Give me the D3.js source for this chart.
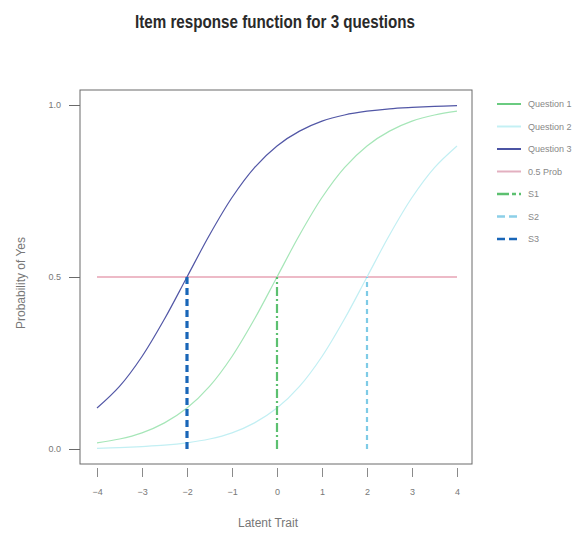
<!DOCTYPE html>
<html>
<head>
<meta charset="utf-8">
<script src="https://cdn.jsdelivr.net/npm/d3@7"></script>
<style>
  body { margin: 0; background: #fff; }
  svg { display: block; }
</style>
</head>
<body>
<div id="chart"></div>
<script>
// Values
const trait = [-4, -3.5, -3, -2.5, -2, -1.5, -1, -0.5, 0, 0.5, 1, 1.5, 2, 2.5, 3, 3.5, 4];
const question1 = [0.018, 0.029, 0.047, 0.076, 0.119, 0.182, 0.269, 0.378, 0.50, 0.622, 0.731, 0.818, 0.881, 0.924, 0.953, 0.971, 0.982];
const question2 = [0.002, 0.004, 0.007, 0.011, 0.018, 0.029, 0.047, 0.076, 0.119, 0.182, 0.269, 0.378, 0.50, 0.622, 0.731, 0.818, 0.881];
const question3 = [0.119, 0.182, 0.269, 0.378, 0.50, 0.622, 0.731, 0.818, 0.881, 0.924, 0.953, 0.971, 0.982, 0.989, 0.993, 0.996, 0.998];
const probLine = 0.5;
const thresholds = [
  { name: 'S1', x: 0 },
  { name: 'S2', x: 2 },
  { name: 'S3', x: -2 }
];
const xTicks = [-4, -3, -2, -1, 0, 1, 2, 3, 4];
const yTicks = [0, 0.5, 1];
const legendLabels = ['Question 1', 'Question 2', 'Question 3', '0.5 Prob', 'S1', 'S2', 'S3'];

const width = 582, height = 538;
const box = { left: 80, right: 472, top: 90, bottom: 464 };

const svg = d3.select('#chart').append('svg')
  .attr('width', width)
  .attr('height', height);

const x = d3.scaleLinear().domain([-4, 4]).range([97, 457]);
const y = d3.scaleLinear().domain([0, 1]).range([449, 105]);

// styles for each series
const styles = {
  'Question 1': { color: '#a6e6b8', legendColor: '#6acb80', width: 1.2, dash: null },
  'Question 2': { color: '#c2eff3', legendColor: '#c4f0f4', width: 1.2, dash: null },
  'Question 3': { color: '#5257a6', legendColor: '#4b54a3', width: 1.2, dash: null },
  '0.5 Prob':   { color: '#e7a3b4', legendColor: '#e3b0c0', width: 1.3, dash: null },
  'S1': { color: '#5cc070', legendColor: '#5cc070', width: 2.2, dash: '9,3,2,3' },
  'S2': { color: '#7ecbe6', legendColor: '#8ccfe8', width: 2.2, dash: '5,4' },
  'S3': { color: '#1966b8', legendColor: '#1966b8', width: 3.2, dash: '7,4' }
};

const narrow = '"Liberation Sans Narrow", "Liberation Sans", sans-serif';

// Frame
svg.append('rect')
  .attr('x', box.left)
  .attr('y', box.top)
  .attr('width', box.right - box.left)
  .attr('height', box.bottom - box.top)
  .attr('fill', 'none')
  .attr('stroke', '#6a6a6a')
  .attr('stroke-width', 1);

// Y axis (ticks attached to left of frame)
const yAxis = svg.append('g')
  .attr('transform', `translate(${box.left},0)`)
  .call(d3.axisLeft(y).tickValues(yTicks).tickFormat(d3.format('.1f')).tickSize(11).tickPadding(8));
yAxis.select('.domain').remove();
yAxis.selectAll('line').attr('stroke', '#6a6a6a');
yAxis.selectAll('text')
  .attr('fill', '#777')
  .attr('font-size', '9px')
  .attr('font-family', narrow);

// X axis (ticks below frame with small gap)
const xAxis = svg.append('g')
  .attr('transform', `translate(0,${box.bottom + 4})`)
  .call(d3.axisBottom(x).tickValues(xTicks).tickFormat(d3.format('d')).tickSize(9).tickPadding(12));
xAxis.select('.domain').remove();
xAxis.selectAll('line').attr('stroke', '#8a8a8a');
xAxis.selectAll('text')
  .attr('fill', '#777')
  .attr('font-size', '9px')
  .attr('font-family', narrow);

const line = d3.line()
  .x(d => x(d[0]))
  .y(d => y(d[1]))
  .curve(d3.curveCatmullRom);

const curves = [
  ['Question 1', question1],
  ['Question 2', question2],
  ['Question 3', question3]
];

// 0.5 probability line
svg.append('path')
  .attr('d', line([[-4, probLine], [4, probLine]]))
  .attr('fill', 'none')
  .attr('stroke', styles['0.5 Prob'].color)
  .attr('stroke-width', styles['0.5 Prob'].width);

curves.forEach(([name, vals]) => {
  svg.append('path')
    .datum(trait.map((t, i) => [t, vals[i]]))
    .attr('d', line)
    .attr('fill', 'none')
    .attr('stroke', styles[name].color)
    .attr('stroke-width', styles[name].width);
});

// Threshold verticals
thresholds.forEach(s => {
  svg.append('line')
    .attr('x1', x(s.x)).attr('x2', x(s.x))
    .attr('y1', y(0)).attr('y2', y(probLine))
    .attr('stroke', styles[s.name].color)
    .attr('stroke-width', styles[s.name].width)
    .attr('stroke-dasharray', styles[s.name].dash);
});

// Axis titles
svg.append('text')
  .attr('x', (box.left + box.right) / 2 - 8)
  .attr('y', 527)
  .attr('text-anchor', 'middle')
  .attr('font-size', '12px')
  .attr('font-family', narrow)
  .attr('fill', '#777')
  .text('Latent Trait');

svg.append('text')
  .attr('transform', 'translate(25,283) rotate(-90)')
  .attr('text-anchor', 'middle')
  .attr('font-size', '12px')
  .attr('font-family', '"Liberation Sans", Arial, sans-serif')
  .attr('fill', '#777')
  .text('Probability of Yes');

// Title
svg.append('text')
  .attr('x', 275)
  .attr('y', 28)
  .attr('text-anchor', 'middle')
  .attr('font-size', '18px')
  .attr('font-weight', 'bold')
  .attr('font-family', narrow)
  .attr('fill', '#2a2a2a')
  .attr('textLength', 280)
  .attr('lengthAdjust', 'spacingAndGlyphs')
  .text('Item response function for 3 questions');

// Legend
const legend = svg.append('g').attr('transform', 'translate(497,104)');
legendLabels.forEach((lab, i) => {
  const st = styles[lab];
  const gy = i * 22.5;
  legend.append('line')
    .attr('x1', 0).attr('x2', 24)
    .attr('y1', gy).attr('y2', gy)
    .attr('stroke', st.legendColor)
    .attr('stroke-width', i >= 4 ? 2.5 : 2)
    .attr('stroke-dasharray', st.dash ? (lab === 'S1' ? '12,3,4,3' : '8,4') : null);
  legend.append('text')
    .attr('x', 31)
    .attr('y', gy + 3)
    .attr('font-size', '9px')
    .attr('font-family', narrow)
    .attr('fill', '#888')
    .text(lab);
});
</script>
</body>
</html>
